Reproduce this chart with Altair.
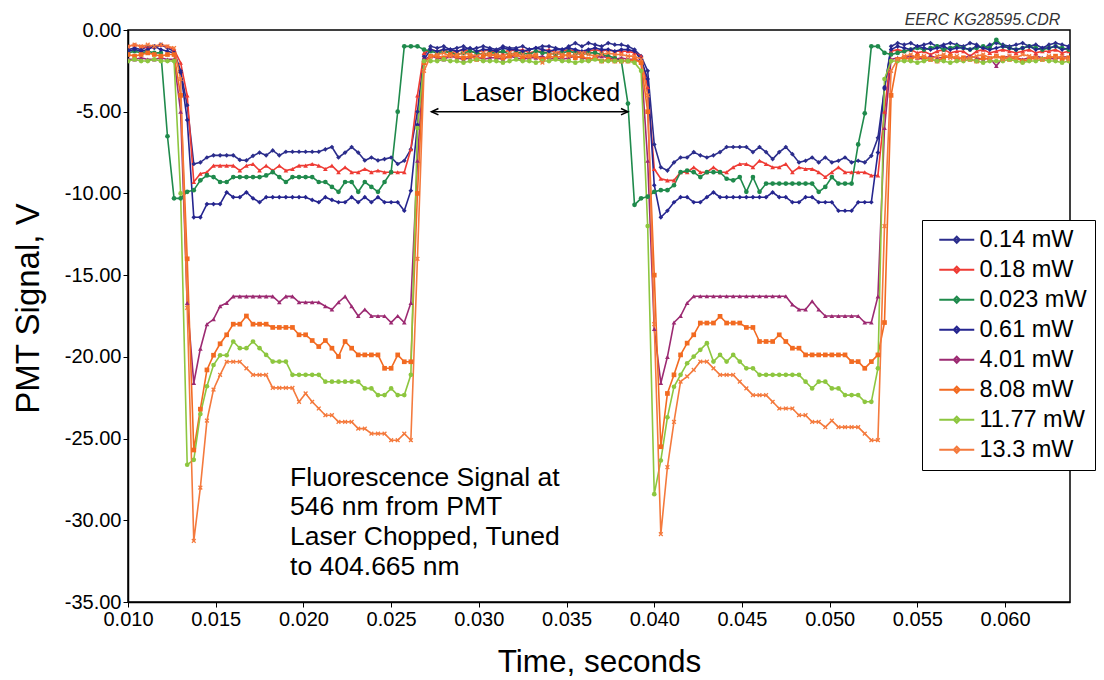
import altair as alt
import pandas as pd

# ---------------- data ----------------
T0 = 0.010        # first sample time (s)
DT = 0.000375     # sample spacing (s)

names = ["0.14 mW", "0.18 mW", "0.023 mW", "0.61 mW",
         "4.01 mW", "8.08 mW", "11.77 mW", "13.3 mW"]
colors = ["#2b2d8c", "#ee3b34", "#1f8a4c", "#25258f",
          "#9c2a72", "#f26a21", "#8dc63f", "#f47a3d"]
XPATH = "M-1,-0.6L-0.6,-1L0,-0.4L0.6,-1L1,-0.6L0.4,0L1,0.6L0.6,1L0,0.4L-0.6,1L-1,0.6L-0.4,0Z"
shapes = ["diamond", "triangle-up", "circle", "diamond",
          "triangle-up", "square", "circle", XPATH]

s_014 = ([-1.2, -1.1, -1.2, -1.0, -1.1, -0.9, -1.1, -1.3]
         + [-2.5, -4.6, -8.2, -8.1, -7.8, -7.67, -7.67, -7.67, -7.67, -7.95, -7.98, -7.7,
            -7.5, -7.67, -7.37, -7.67, -7.45, -7.45, -7.45, -7.45, -7.45, -7.45, -7.3, -7.16,
            -7.8, -7.5, -7.16, -7.5, -7.98, -7.8, -7.98, -7.9, -7.8, -8.2, -8.0, -7.3,
            -5.0, -1.6, -1.0]
         + [-1.1, -1.0, -1.2, -1.1, -1.0, -1.2, -1.1, -1.0, -1.1, -1.2, -1.0, -1.1, -1.1, -1.0,
            -1.2, -1.1, -1.0, -1.0, -1.1, -1.2, -1.0, -0.8, -1.0, -0.8, -0.9, -1.0, -0.8, -0.9]
         + [-0.9, -1.0, -1.2, -1.6, -2.5, -7.0, -8.4, -8.6, -8.1, -7.8, -7.8, -7.47, -7.67,
            -7.8, -7.67, -7.47, -7.16, -7.16, -7.16, -7.16, -7.47, -7.16, -7.47, -7.9, -7.47,
            -7.16, -7.6, -8.1, -8.0, -7.8, -8.1, -7.8, -8.1, -8.0, -7.8, -8.1, -8.0, -8.1,
            -7.7, -6.6, -3.6, -1.0, -0.8]
         + [-0.9, -0.8, -1.0, -0.9, -0.8, -1.0, -0.9, -0.8, -0.9, -1.0, -0.8, -0.9, -1.1,
            -0.9, -0.8, -0.9, -1.0, -0.9, -0.8, -1.0, -0.9, -1.1, -0.9, -0.8, -0.9, -1.0])

s_018 = ([-1.0, -0.9, -1.0, -1.1, -1.0, -0.9, -1.0, -1.2]
         + [-2.0, -4.0, -9.3, -8.8, -8.7, -8.3, -8.3, -8.3, -8.3, -8.6, -8.3, -8.2, -8.6,
            -8.3, -8.6, -8.3, -8.6, -8.5, -8.3, -8.3, -8.2, -8.3, -8.5, -8.3, -8.7, -8.4,
            -8.7, -8.7, -8.5, -8.7, -8.6, -8.7, -8.7, -8.7, -8.7, -7.3, -4.0, -1.4, -1.2]
         + [-1.3, -1.2, -1.4, -1.3, -1.2, -1.3, -1.4, -1.2, -1.3, -1.3, -1.4, -1.2, -1.3, -1.2,
            -1.4, -1.3, -1.3, -1.2, -1.4, -1.3, -1.2, -1.3, -1.4, -1.3, -1.2, -1.3, -1.2, -1.3]
         + [-1.3, -1.3, -1.4, -1.6, -3.5, -8.5, -9.1, -9.2, -9.2, -8.7, -8.7, -8.4, -8.7,
            -8.7, -8.4, -8.7, -8.7, -8.4, -8.2, -8.2, -8.4, -8.0, -8.2, -8.4, -8.4, -8.2,
            -8.7, -8.4, -8.5, -8.5, -8.7, -9.0, -8.7, -8.4, -8.7, -8.7, -8.7, -8.7, -8.9,
            -8.9, -5.0, -1.3, -1.2]
         + [-1.3, -1.2, -1.4, -1.3, -1.5, -1.3, -1.2, -1.4, -1.3, -1.3, -1.6, -1.3, -1.2,
            -1.4, -1.3, -1.2, -1.3, -1.4, -1.3, -1.2, -1.4, -1.3, -1.3, -1.2, -1.4, -1.3])

s_0023 = ([-1.4, -1.3, -1.4, -1.3, -1.4, -1.4, -6.5, -10.3]
          + [-10.3, -9.9, -9.8, -9.2, -8.9, -9.0, -9.3, -9.3, -9.0, -9.0, -9.0, -9.0, -9.0,
             -8.9, -8.7, -9.0, -9.3, -9.0, -9.0, -9.0, -9.0, -9.3, -9.3, -9.6, -9.9, -9.3,
             -9.3, -9.9, -9.3, -9.6, -9.9, -9.3, -8.7, -5.0, -1.0, -1.0, -1.0, -1.2, -1.3]
          + [-1.4, -1.3, -1.4, -1.5, -1.4, -1.3, -1.4, -1.5, -1.4, -1.4, -1.3, -1.5, -1.4, -1.4,
             -1.5, -1.3, -1.4, -1.4, -1.5, -1.4, -1.3, -1.4, -1.5, -1.4, -1.4, -1.5, -1.6, -1.7]
          + [-1.9, -4.5, -10.7, -10.3, -10.2, -9.9, -9.8, -9.8, -9.5, -8.7, -8.6, -8.7, -9.0,
             -8.7, -8.7, -8.7, -9.1, -9.2, -9.0, -9.9, -9.0, -9.9, -9.4, -9.4, -9.4, -9.4,
             -9.4, -9.4, -9.4, -9.4, -9.9, -9.6, -9.0, -9.4, -9.4, -9.4, -7.0, -5.1, -1.0,
             -1.0, -1.4, -1.5, -1.4]
          + [-1.3, -1.2, -1.1, -1.2, -1.1, -1.0, -1.2, -1.1, -1.0, -1.1, -1.2, -1.1, -1.0,
             -1.1, -0.6, -1.0, -1.1, -1.2, -1.1, -1.0, -1.1, -1.2, -1.1, -1.0, -1.1, -1.2])

s_061 = ([-1.3, -1.2, -1.3, -1.2, -1.0, -1.2, -1.3, -1.4]
         + [-2.6, -5.5, -11.46, -11.46, -10.65, -10.65, -10.65, -9.93, -10.23, -10.23, -9.93,
            -10.3, -10.54, -10.23, -10.23, -10.23, -10.23, -10.23, -10.23, -10.23, -10.4,
            -10.54, -10.23, -10.4, -10.54, -10.54, -10.23, -10.54, -10.23, -10.54, -10.23,
            -10.54, -10.54, -10.54, -11.06, -9.83, -5.8, -1.8, -1.2]
         + [-1.3, -1.2, -1.2, -1.3, -1.2, -1.1, -1.3, -1.2, -1.2, -1.3, -1.1, -1.2, -1.2, -1.3,
            -1.2, -1.1, -1.2, -1.3, -1.2, -1.2, -1.1, -1.2, -1.3, -1.2, -1.1, -1.2, -1.2, -1.3]
         + [-1.2, -1.2, -1.3, -1.8, -3.0, -9.5, -11.46, -11.06, -10.54, -10.23, -10.23, -10.54,
            -10.54, -10.23, -9.93, -10.23, -10.23, -10.23, -10.23, -10.23, -10.23, -10.23,
            -10.23, -9.93, -10.23, -10.23, -10.54, -10.54, -10.23, -10.23, -10.54, -10.54,
            -10.54, -11.06, -11.06, -11.06, -10.54, -10.54, -10.54, -7.5, -3.5, -1.2, -1.0]
         + [-1.1, -1.2, -1.0, -1.1, -1.2, -1.1, -1.0, -1.2, -1.1, -1.1, -1.2, -1.0, -1.1,
            -1.2, -1.1, -1.0, -1.1, -1.2, -1.1, -1.0, -1.2, -1.1, -1.1, -1.0, -1.2, -1.1])

s_401 = ([-1.8, -1.8, -1.7, -1.8, -1.8, -1.7, -1.8, -1.8]
         + [-5.0, -16.7, -21.6, -19.5, -18.0, -17.7, -16.9, -16.7, -16.3, -16.3, -16.3, -16.3,
            -16.3, -16.3, -16.3, -16.66, -16.3, -16.3, -16.66, -16.66, -16.66, -16.66, -16.9,
            -17.1, -16.66, -16.3, -16.9, -17.5, -17.1, -17.5, -17.5, -17.5, -17.9, -17.5,
            -17.9, -16.7, -8.0, -1.8, -1.6]
         + [-1.7, -1.8, -1.6, -1.7, -1.8, -1.7, -1.6, -1.8, -1.7, -1.7, -1.8, -1.6, -1.7, -1.8,
            -1.7, -1.7, -1.6, -1.8, -1.7, -1.8, -1.7, -1.6, -1.7, -1.8, -1.7, -1.6, -1.7, -1.8]
         + [-1.7, -1.8, -1.8, -1.9, -8.0, -18.3, -21.6, -20.0, -17.9, -17.5, -16.7,
            -16.29, -16.29, -16.29, -16.29, -16.29, -16.29, -16.29, -16.29, -16.29, -16.29,
            -16.29, -16.29, -16.29, -16.29, -16.29,
            -16.8, -17.1, -17.1, -16.6, -17.1, -17.5, -17.5, -17.5, -17.5, -17.5, -17.5,
            -17.9, -17.9, -16.3, -6.0, -1.8, -1.7]
         + [-1.7, -1.6, -1.7, -1.8, -1.6, -1.7, -1.7, -1.6, -1.8, -1.7, -1.6, -1.7, -1.8,
            -1.7, -2.2, -1.7, -1.6, -1.7, -1.8, -1.7, -1.6, -1.7, -1.7, -1.8, -1.6, -1.7])

s_808 = ([-1.5, -1.6, -1.5, -1.4, -1.5, -1.6, -1.5, -1.5]
         + [-4.0, -14.0, -25.7, -23.2, -20.8, -19.9, -19.2, -18.65, -18.0, -18.0, -17.5,
            -18.0, -18.0, -18.0, -18.2, -18.2, -18.2, -18.2, -18.65, -18.65, -19.0, -19.37,
            -19.0, -19.47, -19.98, -19.06, -19.47, -19.88, -19.88, -19.88, -19.88, -20.7,
            -20.7, -19.88, -20.3, -20.3, -10.0, -2.0, -1.6]
         + [-1.6, -1.7, -1.5, -1.6, -1.7, -1.6, -1.8, -1.6, -1.5, -1.6, -1.7, -1.6, -1.5, -1.7,
            -1.6, -1.6, -1.8, -1.6, -1.7, -1.6, -1.5, -1.7, -1.6, -1.8, -1.7, -1.9, -1.8, -1.9]
         + [-1.9, -1.9, -1.8, -2.0, -5.0, -15.0, -25.5, -22.24, -21.1, -19.88, -19.16, -18.65,
            -17.93, -17.93, -17.93, -17.52, -17.93, -17.93, -17.93, -18.2, -18.2, -19.06,
            -19.06, -19.06, -18.65, -19.06, -19.47, -19.47, -19.88, -19.88, -19.88, -19.88,
            -19.88, -19.88, -19.88, -20.29, -20.29, -20.7, -20.29, -19.88, -17.9, -4.0, -1.8]
         + [-1.7, -1.8, -1.6, -1.7, -1.8, -1.9, -1.7, -1.6, -1.8, -1.7, -1.8, -1.9, -1.7,
            -1.8, -1.6, -1.7, -1.8, -1.7, -1.9, -1.8, -1.7, -1.8, -1.7, -1.6, -1.8, -1.7])

s_1177 = ([-1.9, -1.8, -1.9, -1.9, -1.8, -1.9, -1.9, -1.9]
          + [-10.0, -26.6, -26.3, -23.5, -21.8, -20.5, -19.9, -19.9, -19.06, -19.47, -19.47,
             -19.06, -19.47, -19.88, -20.29, -20.29, -20.29, -21.1, -21.1, -21.1, -21.1, -21.1,
             -21.52, -21.52, -21.52, -21.52, -21.52, -21.52, -21.93, -21.93, -22.34, -22.34,
             -21.93, -22.34, -22.34, -21.1, -6.0, -1.9, -1.9]
          + [-1.9, -1.8, -1.9, -1.9, -2.0, -1.9, -1.8, -1.9, -1.9, -1.9, -2.0, -1.9, -1.8, -1.9,
             -1.9, -2.0, -1.9, -1.9, -1.8, -1.9, -1.9, -2.0, -1.9, -1.9, -1.8, -1.9, -1.9, -1.9]
          + [-1.9, -1.9, -2.0, -2.5, -12.0, -28.4, -26.34, -23.7, -21.83, -21.1, -20.39,
             -19.98, -19.57, -19.16, -20.29, -19.88, -20.29, -19.88, -20.29, -20.7, -20.7,
             -21.1, -21.1, -21.1, -21.1, -21.1, -21.1, -21.1, -21.52, -21.93, -21.52, -21.52,
             -21.93, -21.93, -22.34, -22.34, -22.34, -22.75, -22.75, -20.7, -3.0, -1.9, -1.9]
          + [-1.9, -1.9, -2.0, -1.9, -1.8, -1.9, -1.9, -2.0, -1.9, -1.9, -1.8, -1.9, -2.0,
             -1.9, -1.9, -1.9, -1.8, -1.9, -2.0, -1.9, -1.9, -1.8, -1.9, -1.9, -2.0, -1.9])

s_133 = ([-1.0, -0.9, -1.0, -0.9, -1.0, -0.9, -1.0, -1.1]
         + [-3.0, -17.0, -31.26, -28.0, -23.9, -22.0, -21.1, -20.3, -20.3, -20.3, -20.7, -21.1,
            -21.1, -21.1, -21.9, -21.9, -21.9, -21.9, -22.75, -22.24, -22.75, -23.16, -23.57,
            -23.57, -23.98, -23.98, -23.98, -24.39, -24.39, -24.7, -24.7, -24.7, -25.1, -25.1,
            -24.7, -25.1, -14.0, -2.5, -1.6]
         + [-1.5, -1.4, -1.6, -1.5, -1.4, -1.5, -1.6, -1.4, -1.5, -1.5, -1.6, -1.4, -1.5, -1.5,
            -1.6, -1.5, -2.0, -1.5, -1.4, -1.5, -1.6, -1.5, -1.4, -1.5, -1.6, -1.5, -1.4, -1.5]
         + [-1.5, -1.6, -1.6, -1.8, -4.0, -18.0, -30.85, -26.75, -23.98, -21.52, -21.2, -20.8,
            -20.29, -20.29, -20.7, -21.1, -21.1, -21.1, -21.52, -21.93, -22.34, -22.34, -22.34,
            -22.75, -23.16, -23.16, -23.16, -23.57, -23.57, -23.98, -23.98, -24.3, -23.9,
            -24.3, -24.3, -24.3, -24.3, -24.7, -25.1, -25.1, -12.0, -2.5, -1.8]
         + [-1.6, -1.5, -1.7, -1.6, -1.8, -1.6, -1.5, -1.7, -1.6, -1.8, -1.7, -1.6, -1.5,
            -1.7, -1.6, -1.8, -1.6, -1.7, -1.5, -1.6, -1.7, -1.8, -1.6, -1.7, -1.6, -1.8])

series_values = [s_014, s_018, s_0023, s_061, s_401, s_808, s_1177, s_133]

x_ticks = [0.010, 0.015, 0.020, 0.025, 0.030, 0.035, 0.040, 0.045, 0.050, 0.055, 0.060]
y_ticks = [0, -5, -10, -15, -20, -25, -30, -35]
X_DOMAIN = [0.010, 0.0637]
Y_DOMAIN = [-35, 0]

# annotation anchors (data units)
arrow_t = [0.0273, 0.0385]
arrow_v = -5.0
blocked_label = {"t": 0.03354, "v": -3.85, "text": "Laser Blocked"}
note_lines = ["Fluorescence Signal at", "546 nm from PMT", "Laser Chopped, Tuned", "to 404.665 nm"]
note_anchor = {"t": 0.01924, "v": -26.6}
file_tag = {"t": 0.05871, "v": 0.62, "text": "EERC KG28595.CDR"}

FONT = "Liberation Sans"

# ---------------- table ----------------
rows = []
for name, col, shp, vals in zip(names, colors, shapes, series_values):
    for i, v in enumerate(vals):
        rows.append({"series": name, "t": T0 + i * DT, "v": v,
                     "hex": col, "shape": shp, "idx": i})
df = pd.DataFrame(rows)

xenc = alt.X("t:Q", scale=alt.Scale(domain=X_DOMAIN, nice=False, zero=False),
             axis=alt.Axis(values=x_ticks, format=".3f", title="Time, seconds",
                           labelFontSize=20, titleFontSize=31.5, titlePadding=17,
                           tickSize=5, grid=False, labelFlush=False))
yenc = alt.Y("v:Q", scale=alt.Scale(domain=Y_DOMAIN, nice=False, zero=False),
             axis=alt.Axis(values=y_ticks, labelExpr="replace(format(datum.value, '.2f'), '\u2212', '-')",
                           title="PMT Signal, V", labelFontSize=20, titleFontSize=33,
                           titlePadding=19, titleY=278, tickSize=5, grid=False))

lines = alt.Chart(df).mark_line(strokeWidth=1.6, clip=True).encode(
    x=xenc, y=yenc,
    color=alt.Color("series:N",
                    scale=alt.Scale(domain=names, range=colors),
                    sort=names,
                    legend=alt.Legend(title=None, orient="none", legendX=794, legendY=190,
                                      fillColor="white", strokeColor="black",
                                      padding=8, labelFontSize=23.5, labelFont=FONT,
                                      labelColor="black",
                                      symbolType="M-1.75,0H1.75M0,-0.3L0.3,0L0,0.3L-0.3,0Z",
                                      symbolSize=400, symbolStrokeWidth=2,
                                      symbolOffset=15, labelOffset=11, rowPadding=5)),
    order=alt.Order("idx:Q"),
)

points = alt.Chart(df).mark_point(filled=True, size=22, opacity=1, clip=True).encode(
    x="t:Q", y="v:Q",
    color=alt.Color("hex:N", scale=None),
    shape=alt.Shape("shape:N", scale=None),
)

arrow_df = pd.DataFrame({"t": [arrow_t[0]], "t2": [arrow_t[1]], "v": [arrow_v]})
arrow_line = alt.Chart(arrow_df).mark_rule(color="black", strokeWidth=1.5).encode(
    x="t:Q", x2="t2:Q", y="v:Q")
heads_df = pd.DataFrame({"t": arrow_t, "v": [arrow_v, arrow_v],
                         "shape": ["M2.2,-1L0,0L2.2,1", "M-2.2,-1L0,0L-2.2,1"]})
arrow_heads = alt.Chart(heads_df).mark_point(filled=False, color="black", strokeWidth=1.5,
                                             size=40, opacity=1).encode(
    x="t:Q", y="v:Q", shape=alt.Shape("shape:N", scale=None))

blocked_text = alt.Chart(pd.DataFrame([blocked_label])).mark_text(
    fontSize=25, font=FONT, color="black", align="center", baseline="middle").encode(
    x="t:Q", y="v:Q", text="text:N")

note_text = alt.Chart(pd.DataFrame([{"t": note_anchor["t"], "v": note_anchor["v"]}])).mark_text(
    fontSize=26.5, font=FONT, color="black", align="left", baseline="top", lineHeight=29.7,
    text=note_lines).encode(x="t:Q", y="v:Q")

tag_text = alt.Chart(pd.DataFrame([file_tag])).mark_text(
    fontSize=16, font=FONT, fontStyle="italic", color="#333333", align="center",
    baseline="middle").encode(x="t:Q", y="v:Q", text="text:N")

chart = alt.layer(lines, points, arrow_line, arrow_heads, blocked_text, note_text, tag_text).properties(
    width=942, height=572,
    autosize=alt.AutoSizeParams(type="none"),
    padding={"left": 128, "top": 30, "right": 34, "bottom": 78},
).configure(font=FONT).configure_view(
    stroke="black", strokeWidth=1.5
).configure_axis(
    labelColor="black", titleColor="black", domainColor="black", tickColor="black",
    titleFontWeight="normal", labelFont=FONT, titleFont=FONT, domainWidth=1.5
)

chart.save("out.html", embed_options={"renderer": "svg", "actions": False})
